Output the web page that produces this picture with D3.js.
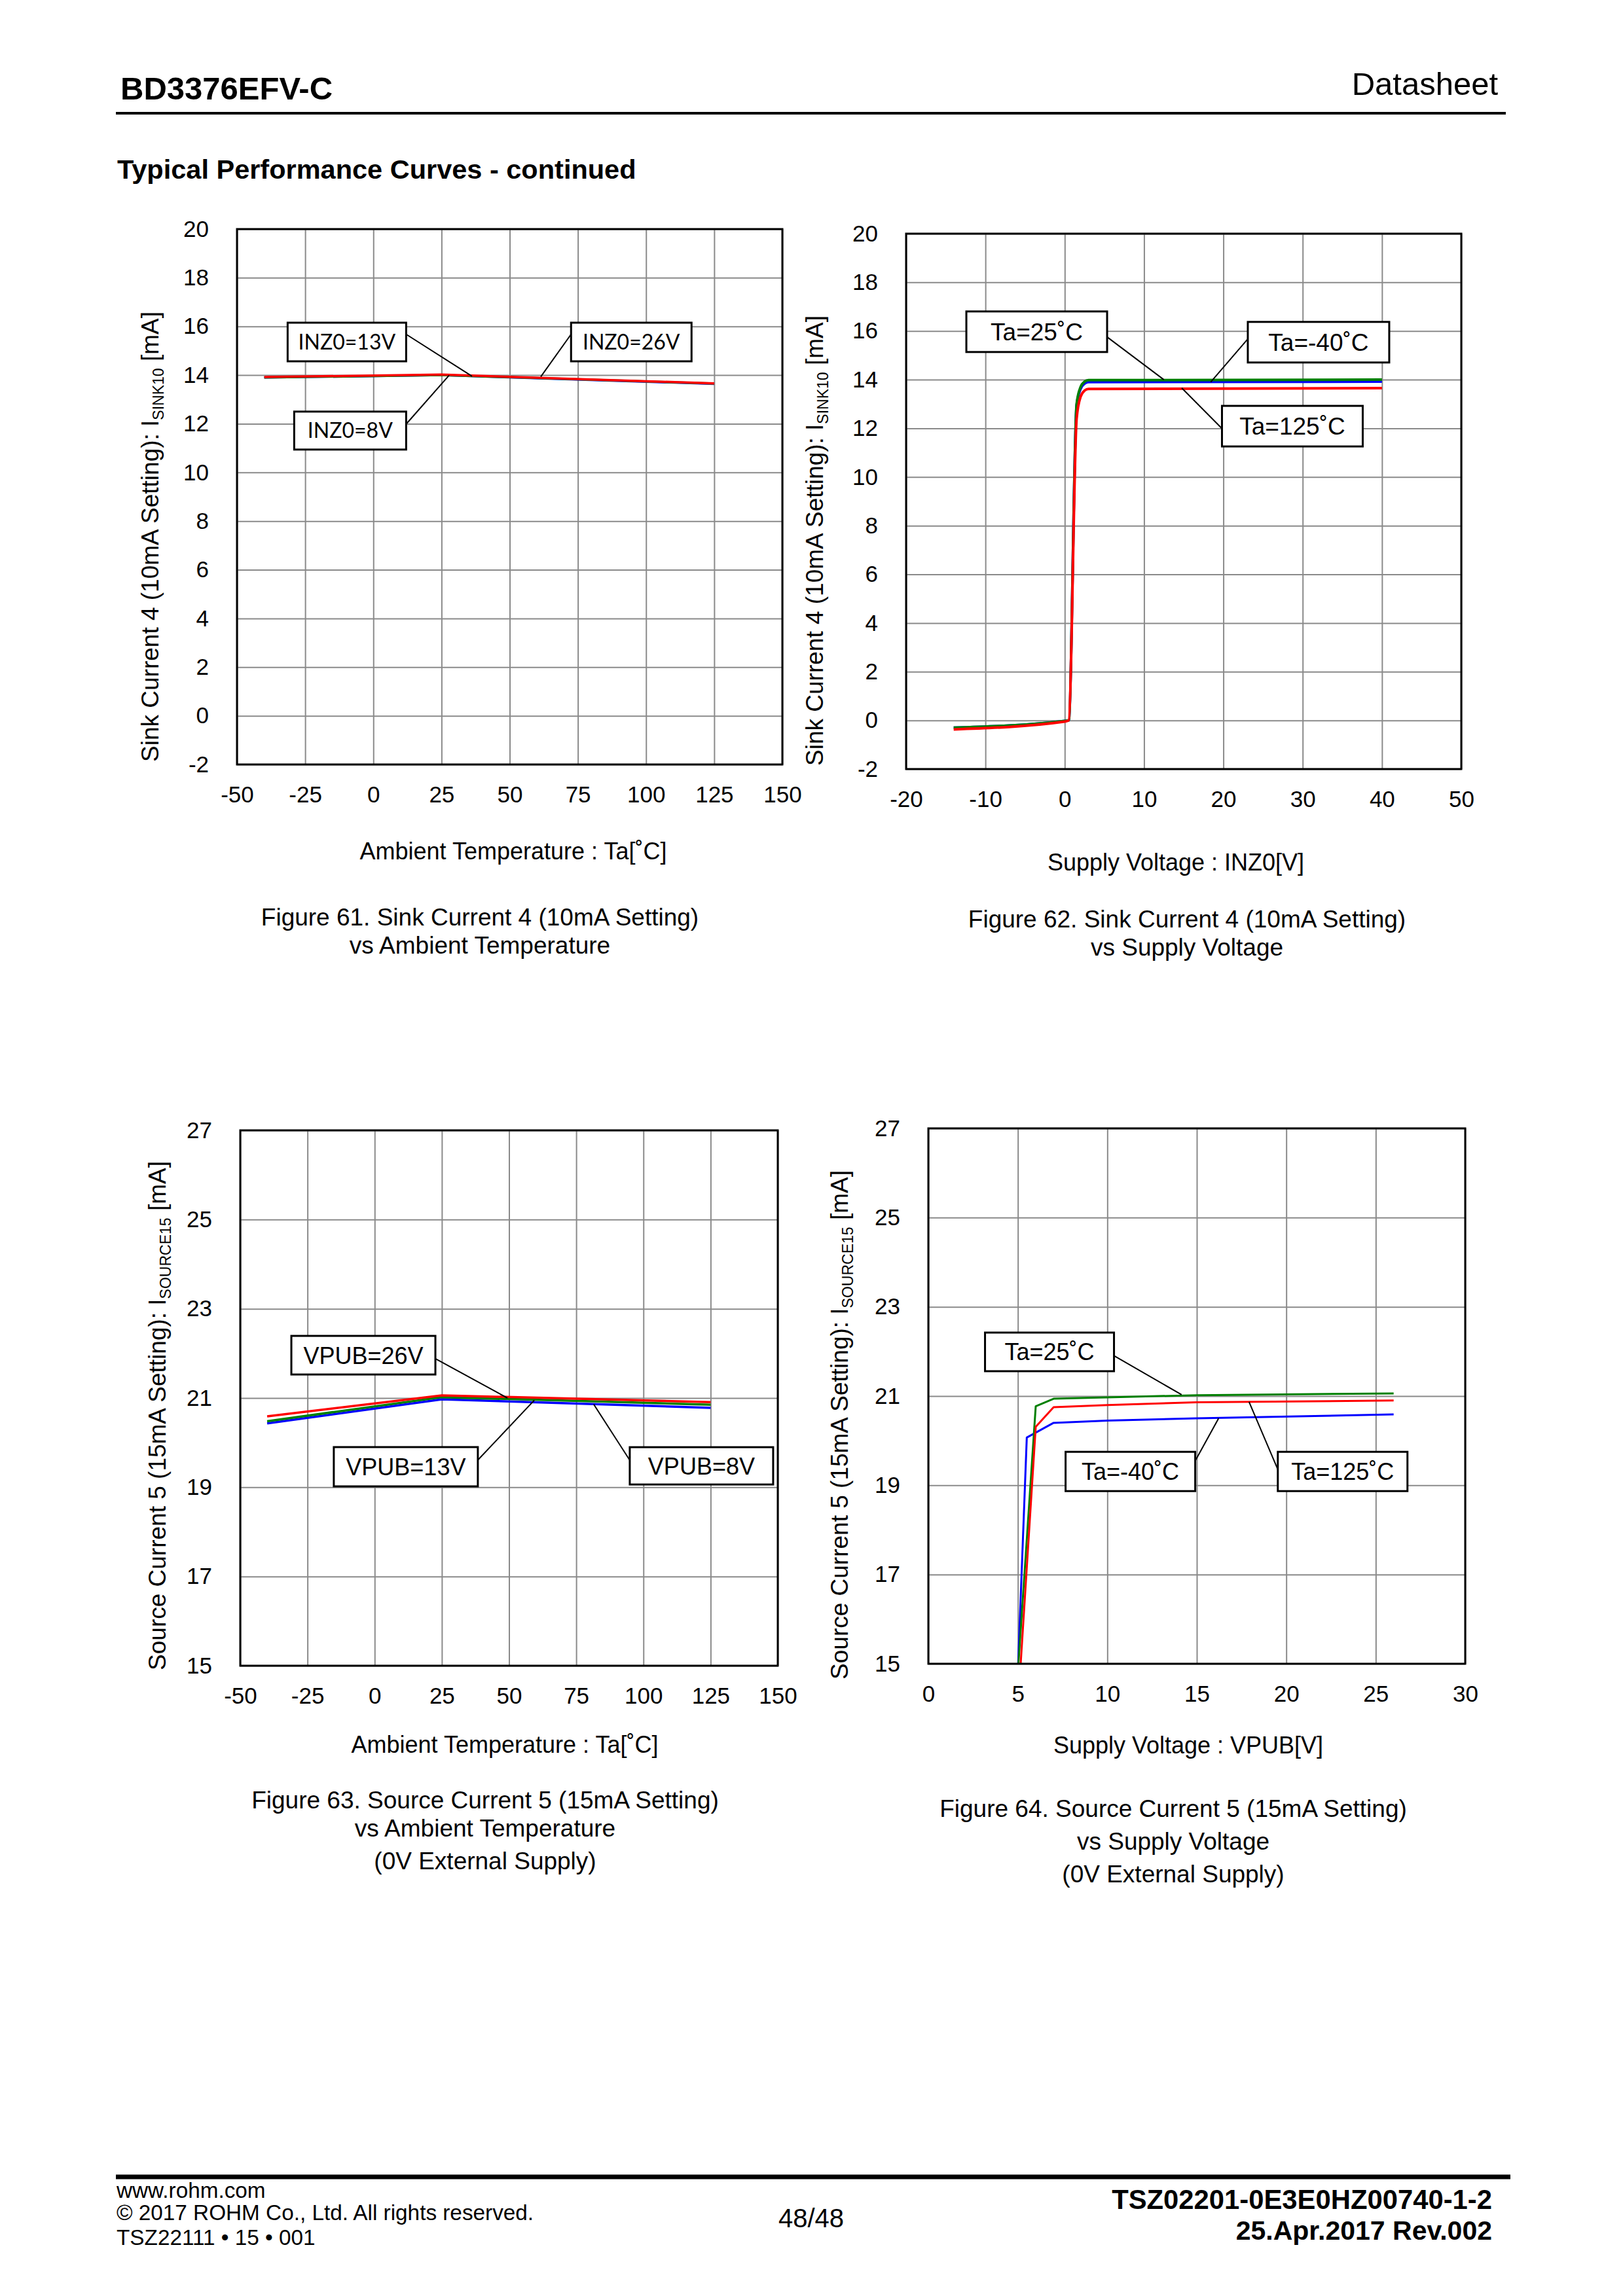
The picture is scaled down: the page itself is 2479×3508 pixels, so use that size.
<!DOCTYPE html>
<html>
<head>
<meta charset="utf-8">
<script src="https://cdn.jsdelivr.net/npm/d3@7"></script>
<style>
  html, body { margin: 0; padding: 0; background: #fff; }
  svg { display: block; font-family: "Liberation Sans", Arial, sans-serif; }
  .grid line { stroke: #8a8a8a; stroke-width: 2; }
  .grid path { display: none; }
  .ticks path, .ticks line { display: none; }
  .ticks text { font-size: 35px; fill: #000; font-family: "Liberation Sans", Arial, sans-serif; }
</style>
</head>
<body>
<div id="page"></div>
<script>
// ---- Figure 61: sink current vs ambient temperature ----
const fig61Temps = [-40, 25, 125];
const fig61Inz8  = [13.90, 14.00, 13.64];
const fig61Inz13 = [13.90, 14.00, 13.65];
const fig61Inz26 = [13.92, 14.02, 13.66];
const fig61XTicks = [-50, -25, 0, 25, 50, 75, 100, 125, 150];
const fig61YTicks = [-2, 0, 2, 4, 6, 8, 10, 12, 14, 16, 18, 20];

// ---- Figure 62: sink current vs supply voltage ----
const fig62Volts  = [-14, 0, 0.5, 1.5, 2, 2.5, 3, 40];
const fig62Ta25   = [-0.30, -0.02, 0, 13.0, 13.7, 13.92, 13.98, 14.0];
const fig62TaM40  = [-0.30, -0.02, 0, 12.95, 13.62, 13.84, 13.90, 13.92];
const fig62Ta125  = [-0.37, -0.05, 0, 12.4, 13.3, 13.55, 13.62, 13.65];
const fig62XTicks = [-20, -10, 0, 10, 20, 30, 40, 50];
const fig62YTicks = [-2, 0, 2, 4, 6, 8, 10, 12, 14, 16, 18, 20];

// ---- Figure 63: source current vs ambient temperature ----
const fig63Temps   = [-40, 25, 125];
const fig63Vpub8   = [20.43, 20.97, 20.78];
const fig63Vpub13  = [20.48, 21.02, 20.85];
const fig63Vpub26  = [20.59, 21.06, 20.91];
const fig63XTicks = [-50, -25, 0, 25, 50, 75, 100, 125, 150];
const fig63YTicks = [15, 17, 19, 21, 23, 25, 27];

// ---- Figure 64: source current vs supply voltage ----
const fig64VoltsTa25  = [5, 6, 7, 10, 15, 26];
const fig64Ta25       = [14.8, 20.77, 20.94, 20.97, 21.02, 21.06];
const fig64VoltsTaM40 = [5, 5.5, 7, 10, 15, 26];
const fig64TaM40      = [14.8, 20.07, 20.40, 20.45, 20.50, 20.59];
const fig64VoltsTa125 = [5, 6, 7, 10, 15, 26];
const fig64Ta125      = [14.0, 20.31, 20.75, 20.80, 20.86, 20.90];
const fig64XTicks = [0, 5, 10, 15, 20, 25, 30];
const fig64YTicks = [15, 17, 19, 21, 23, 25, 27];

const RED = '#ff0000', GREEN = '#008000', BLUE = '#0000ff';

const W = 2479, H = 3508;

const svg = d3.select('#page').append('svg')
    .attr('width', W)
    .attr('height', H)
    .attr('viewBox', `0 0 ${W} ${H}`);

svg.append('rect').attr('width', W).attr('height', H).attr('fill', '#fff');

// plain hyphen for negatives, like the datasheet
const plainNum = d => String(d);

function drawPageFrame() {
    // header
    svg.append('text').attr('x', 184).attr('y', 152)
        .attr('font-size', 49).attr('font-weight', 'bold')
        .text('BD3376EFV-C');
    svg.append('text').attr('x', 2288).attr('y', 145)
        .attr('font-size', 49).attr('text-anchor', 'end')
        .text('Datasheet');
    svg.append('line').attr('x1', 177).attr('x2', 2300).attr('y1', 173).attr('y2', 173)
        .attr('stroke', '#000').attr('stroke-width', 4);
    svg.append('text').attr('x', 179).attr('y', 273)
        .attr('font-size', 41.5).attr('font-weight', 'bold')
        .text('Typical Performance Curves - continued');

    // footer
    svg.append('line').attr('x1', 177).attr('x2', 2307).attr('y1', 3326).attr('y2', 3326)
        .attr('stroke', '#000').attr('stroke-width', 7);
    const left = [['www.rohm.com', 3358], ['© 2017 ROHM Co., Ltd. All rights reserved.', 3392], ['TSZ22111 • 15 • 001', 3430]];
    left.forEach(([t, y]) => {
        svg.append('text').attr('x', 178).attr('y', y).attr('font-size', 33.3).text(t);
    });
    svg.append('text').attr('x', 1239).attr('y', 3403).attr('font-size', 40)
        .attr('text-anchor', 'middle').text('48/48');
    svg.append('text').attr('x', 2279).attr('y', 3375).attr('font-size', 41.8)
        .attr('font-weight', 'bold').attr('text-anchor', 'end').text('TSZ02201-0E3E0HZ00740-1-2');
    svg.append('text').attr('x', 2279).attr('y', 3422).attr('font-size', 41)
        .attr('font-weight', 'bold').attr('text-anchor', 'end').text('25.Apr.2017 Rev.002');
}

function drawChart(cfg, idx) {
    const { box } = cfg;
    const x = d3.scaleLinear().domain(cfg.xDomain).range([box.left, box.right]);
    const y = d3.scaleLinear().domain(cfg.yDomain).range([box.bottom, box.top]);
    const g = svg.append('g').attr('class', 'chart');
    const w = box.right - box.left, h = box.bottom - box.top;

    // grid
    g.append('g').attr('class', 'grid')
        .attr('transform', `translate(0,${box.bottom})`)
        .call(d3.axisBottom(x).tickValues(cfg.xTicks).tickSize(-h).tickFormat(''));
    g.append('g').attr('class', 'grid')
        .attr('transform', `translate(${box.left},0)`)
        .call(d3.axisLeft(y).tickValues(cfg.yTicks).tickSize(-w).tickFormat(''));

    // tick labels
    g.append('g').attr('class', 'ticks')
        .attr('transform', `translate(0,${box.bottom})`)
        .call(d3.axisBottom(x).tickValues(cfg.xTicks).tickSize(0).tickPadding(33).tickFormat(plainNum));
    g.append('g').attr('class', 'ticks')
        .attr('transform', `translate(${box.left},0)`)
        .call(d3.axisLeft(y).tickValues(cfg.yTicks).tickSize(0).tickPadding(43).tickFormat(plainNum));

    // series
    const clipId = `clip-${idx}`;
    g.append('clipPath').attr('id', clipId).append('rect')
        .attr('x', box.left).attr('y', box.top).attr('width', w).attr('height', h);
    const line = d3.line().x(d => x(d[0])).y(d => y(d[1])).curve(cfg.curve || d3.curveLinear);
    cfg.series.forEach(s => {
        g.append('path')
            .datum(s.x.map((v, i) => [v, s.y[i]]))
            .attr('d', line)
            .attr('fill', 'none')
            .attr('stroke', s.color)
            .attr('stroke-width', cfg.lineWidth)
            .attr('stroke-linejoin', 'round')
            .attr('clip-path', `url(#${clipId})`);
    });

    // frame
    g.append('rect').attr('x', box.left).attr('y', box.top).attr('width', w).attr('height', h)
        .attr('fill', 'none').attr('stroke', '#000').attr('stroke-width', 3);

    // callouts
    cfg.notes.forEach(n => {
        const cx = x(n.bx), cy = y(n.by);
        const bx0 = cx - n.w / 2, by0 = cy - n.h / 2;
        const sx = n.side === 'r' ? bx0 + n.w : bx0;
        const sy = by0 + n.h * n.fy;
        g.append('line').attr('x1', sx).attr('y1', sy).attr('x2', x(n.tx)).attr('y2', y(n.ty))
            .attr('stroke', '#000').attr('stroke-width', 2);
        g.append('rect').attr('x', bx0).attr('y', by0).attr('width', n.w).attr('height', n.h)
            .attr('fill', '#fff').attr('stroke', '#000').attr('stroke-width', 3);
        g.append('text').attr('x', cx).attr('y', cy).attr('dy', '0.36em')
            .attr('text-anchor', 'middle')
            .attr('font-size', cfg.noteSize)
            .attr('font-family', cfg.noteFont)
            .text(n.text);
    });

    // axis titles
    g.append('text').attr('x', cfg.xTitle.x).attr('y', cfg.xTitle.y)
        .attr('font-size', 36).attr('text-anchor', 'middle').text(cfg.xTitle.text);
    const yt = g.append('text')
        .attr('transform', `translate(${cfg.yTitle.x},${cfg.yTitle.y}) rotate(-90)`)
        .attr('font-size', 37).attr('text-anchor', 'middle').attr('dy', '0.36em');
    yt.append('tspan').text(cfg.yTitle.main);
    yt.append('tspan').attr('font-size', 23).attr('dy', 8).text(cfg.yTitle.sub);
    yt.append('tspan').attr('dy', -8).text(' [mA]');

    // caption
    cfg.caption.lines.forEach((t, i) => {
        g.append('text').attr('x', cfg.caption.x).attr('y', cfg.caption.ys[i])
            .attr('font-size', 37).attr('text-anchor', 'middle').text(t);
    });
    console.log('[Chart] drawn', cfg.caption.lines[0]);
}

const charts = [
    {
        box: { left: 362, right: 1195, top: 350, bottom: 1168 },
        xDomain: [-50, 150], yDomain: [-2, 20],
        xTicks: fig61XTicks, yTicks: fig61YTicks,
        lineWidth: 3.5,
        series: [
            { x: fig61Temps, y: fig61Inz8, color: BLUE },
            { x: fig61Temps, y: fig61Inz13, color: GREEN },
            { x: fig61Temps, y: fig61Inz26, color: RED }
        ],
        noteFont: 'Lato, "Open Sans", sans-serif', noteSize: 32,
        notes: [
            { text: 'INZ0=13V', bx: -9.7, by: 15.36, w: 181, h: 59, side: 'r', fy: 0.3, tx: 36.2, ty: 13.95 },
            { text: 'INZ0=26V', bx: 94.6, by: 15.36, w: 184, h: 59, side: 'l', fy: 0.3, tx: 61.4, ty: 13.93 },
            { text: 'INZ0=8V', bx: -8.5, by: 11.72, w: 171, h: 58, side: 'r', fy: 0.33, tx: 27.8, ty: 13.99 }
        ],
        xTitle: { x: 784, y: 1313, text: 'Ambient Temperature : Ta[˚C]' },
        yTitle: { x: 229, y: 820, main: 'Sink Current 4 (10mA Setting): I', sub: 'SINK10' },
        caption: { x: 733, ys: [1414, 1457], lines: ['Figure 61. Sink Current 4 (10mA Setting)', 'vs Ambient Temperature'] }
    },
    {
        box: { left: 1384, right: 2232, top: 357, bottom: 1175 },
        xDomain: [-20, 50], yDomain: [-2, 20],
        xTicks: fig62XTicks, yTicks: fig62YTicks,
        lineWidth: 4, curve: d3.curveMonotoneX,
        series: [
            { x: fig62Volts, y: fig62TaM40, color: BLUE },
            { x: fig62Volts, y: fig62Ta25, color: GREEN },
            { x: fig62Volts, y: fig62Ta125, color: RED }
        ],
        noteFont: '"Liberation Sans", Arial, sans-serif', noteSize: 37,
        notes: [
            { text: 'Ta=25˚C', bx: -3.53, by: 15.97, w: 215, h: 62, side: 'r', fy: 0.63, tx: 12.5, ty: 14.0 },
            { text: 'Ta=-40˚C', bx: 32.0, by: 15.54, w: 216, h: 62, side: 'l', fy: 0.42, tx: 18.4, ty: 13.9 },
            { text: 'Ta=125˚C', bx: 28.7, by: 12.09, w: 215, h: 62, side: 'l', fy: 0.56, tx: 14.75, ty: 13.66 }
        ],
        xTitle: { x: 1796, y: 1330, text: 'Supply Voltage : INZ0[V]' },
        yTitle: { x: 1244, y: 826, main: 'Sink Current 4 (10mA Setting): I', sub: 'SINK10' },
        caption: { x: 1813, ys: [1417, 1460], lines: ['Figure 62. Sink Current 4 (10mA Setting)', 'vs Supply Voltage'] }
    },
    {
        box: { left: 367, right: 1188, top: 1727, bottom: 2545 },
        xDomain: [-50, 150], yDomain: [15, 27],
        xTicks: fig63XTicks, yTicks: fig63YTicks,
        lineWidth: 3.5,
        series: [
            { x: fig63Temps, y: fig63Vpub8, color: BLUE },
            { x: fig63Temps, y: fig63Vpub13, color: GREEN },
            { x: fig63Temps, y: fig63Vpub26, color: RED }
        ],
        noteFont: '"Liberation Sans", Arial, sans-serif', noteSize: 36,
        notes: [
            { text: 'VPUB=26V', bx: -4.2, by: 21.96, w: 220, h: 59, side: 'r', fy: 0.59, tx: 49.4, ty: 21.0 },
            { text: 'VPUB=13V', bx: 11.6, by: 19.46, w: 220, h: 60, side: 'r', fy: 0.33, tx: 59.4, ty: 20.95 },
            { text: 'VPUB=8V', bx: 121.6, by: 19.48, w: 219, h: 57, side: 'l', fy: 0.35, tx: 81.5, ty: 20.86 }
        ],
        xTitle: { x: 771, y: 2678, text: 'Ambient Temperature : Ta[˚C]' },
        yTitle: { x: 240, y: 2163, main: 'Source Current 5 (15mA Setting): I', sub: 'SOURCE15' },
        caption: { x: 741, ys: [2763, 2806, 2856], lines: ['Figure 63. Source Current 5 (15mA Setting)', 'vs Ambient Temperature', '(0V External Supply)'] }
    },
    {
        box: { left: 1418, right: 2238, top: 1724, bottom: 2542 },
        xDomain: [0, 30], yDomain: [15, 27],
        xTicks: fig64XTicks, yTicks: fig64YTicks,
        lineWidth: 3,
        series: [
            { x: fig64VoltsTaM40, y: fig64TaM40, color: BLUE },
            { x: fig64VoltsTa25, y: fig64Ta25, color: GREEN },
            { x: fig64VoltsTa125, y: fig64Ta125, color: RED }
        ],
        noteFont: '"Liberation Sans", Arial, sans-serif', noteSize: 36,
        notes: [
            { text: 'Ta=25˚C', bx: 6.77, by: 21.99, w: 197, h: 59, side: 'r', fy: 0.6, tx: 14.15, ty: 21.03 },
            { text: 'Ta=-40˚C', bx: 11.29, by: 19.31, w: 198, h: 60, side: 'r', fy: 0.23, tx: 16.22, ty: 20.5 },
            { text: 'Ta=125˚C', bx: 23.15, by: 19.31, w: 198, h: 60, side: 'l', fy: 0.45, tx: 17.92, ty: 20.87 }
        ],
        xTitle: { x: 1815, y: 2679, text: 'Supply Voltage : VPUB[V]' },
        yTitle: { x: 1282, y: 2177, main: 'Source Current 5 (15mA Setting): I', sub: 'SOURCE15' },
        caption: { x: 1792, ys: [2776, 2826, 2876], lines: ['Figure 64. Source Current 5 (15mA Setting)', 'vs Supply Voltage', '(0V External Supply)'] }
    }
];

try {
    drawPageFrame();
    charts.forEach(drawChart);
} catch (error) {
    console.error('[Page] draw error:', error);
}
</script>
</body>
</html>
